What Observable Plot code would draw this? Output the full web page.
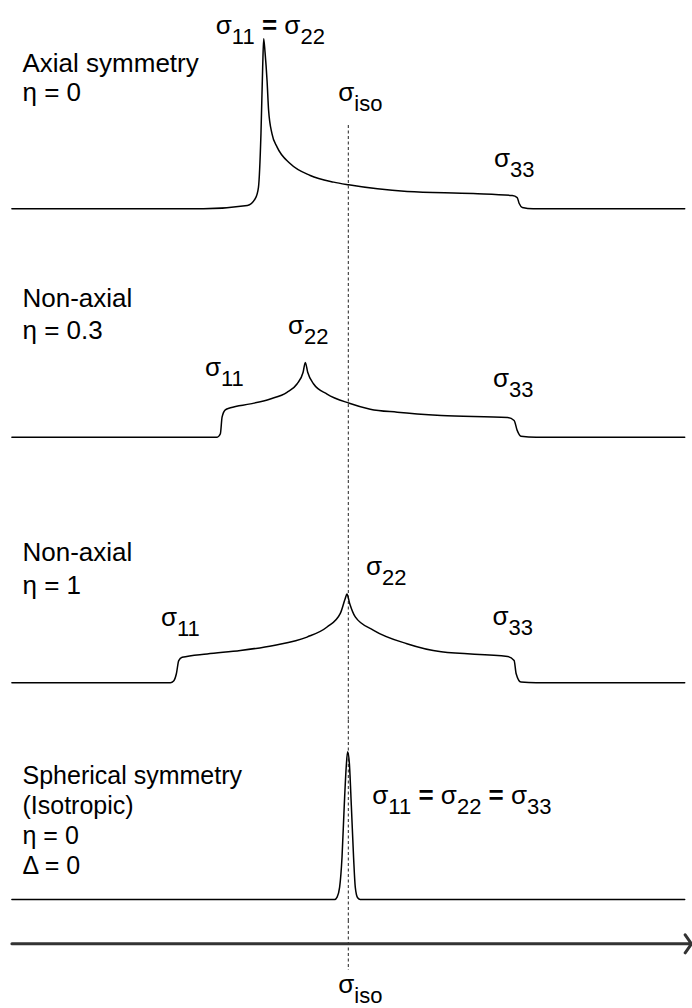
<!DOCTYPE html>
<html>
<head>
<meta charset="utf-8">
<script src="https://cdn.jsdelivr.net/npm/d3@7"></script>
<script src="https://cdn.jsdelivr.net/npm/@observablehq/plot@0.6"></script>
<style>
  html, body { margin: 0; padding: 0; background: #fff; }
  #chart { width: 692px; }
  #chart svg { display: block; }
</style>
</head>
<body>
<div id="chart"></div>
<script>
// ---- Data: chemical shift (ppm) and powder line-shape intensity (a.u.) ----
const sigmaIso = 100;

// Principal components [σ11, σ22, σ33] in ppm
const axialTensor = [50, 50, 200];
const eta03Tensor = [25, 75, 200];
const eta1Tensor = [0, 100, 200];
const isoTensor = [100, 100, 100];

// Axial symmetry, η = 0
const axialShift = [-98, 14.7, 40.6, 45.3, 47.1, 48.6, 49.6, 50.2, 51, 52.2, 53.1, 55.1, 58.1, 65.9, 77.6, 91.4, 100.2, 134.7, 173.5, 196.5, 199.4, 200.6, 202.4, 208.8, 298];
const axialIntensity = [0, 0, 1.9, 6.1, 12.5, 44.3, 83.3, 100, 92, 75, 57.8, 44.1, 36.3, 26.5, 19.6, 15.7, 14.1, 10.2, 9, 7.8, 6.6, 3.1, 0.8, 0, 0];

// Non-axial, η = 0.3
const eta03Shift = [-98, 22.8, 24.7, 25.7, 27.6, 30.6, 42.4, 54.1, 63.9, 69.8, 73.4, 74.7, 76.1, 79.6, 87.5, 100.6, 112.9, 128.8, 154.7, 193.8, 197.6, 199.4, 201.6, 210.6, 298];
const eta03Intensity = [0, 0, 2, 11.8, 16.1, 17.3, 19.6, 22.5, 26.4, 31.3, 38.2, 44, 38.2, 31.3, 25.4, 20, 16.5, 14.7, 12.8, 11.6, 9.8, 4, 0.6, 0, 0];

// Non-axial, η = 1
const eta1Shift = [-98, -4.7, -2.8, -1.2, 0.2, 2.2, 16.9, 36.5, 56.1, 75.7, 87.5, 95.3, 98.2, 99.2, 100.8, 104.1, 114.9, 134.5, 154.7, 193.8, 197.6, 198.8, 201.6, 210.6, 298];
const eta1Intensity = [0, 0, 1, 5.3, 13.1, 15, 17, 19, 22, 26.9, 32.8, 40.8, 49.6, 52.2, 46.7, 38.8, 30.9, 23, 18.2, 15.5, 13.1, 5.3, 0.4, 0, 0];

// Spherical symmetry (isotropic)
const isoShift = [-98, 92, 93.4, 94.9, 96.3, 97.6, 98.8, 99.6, 100.6, 101.8, 103.1, 104.1, 105.5, 107, 298];
const isoIntensity = [0, 0, 1.4, 7.3, 24.9, 54.9, 78.4, 86.9, 80.4, 54.9, 24.9, 7.3, 1, 0, 0];

// Descriptions and peak labels ("_" starts a subscript)
const axialTitle = ["Axial symmetry", "η = 0"];
const eta03Title = ["Non-axial", "η = 0.3"];
const eta1Title = ["Non-axial", "η = 1"];
const isoTitle = ["Spherical symmetry", "(Isotropic)", "η = 0", "Δ = 0"];

const axialLabels = ["σ_11 = σ_22", "σ_33"];
const eta03Labels = ["σ_11", "σ_22", "σ_33"];
const eta1Labels = ["σ_11", "σ_22", "σ_33"];
const isoLabels = ["σ_11 = σ_22 = σ_33"];
const isoMarker = "σ_iso";

// ---- Assemble the four spectra ----
const spectra = [
  {shift: axialShift, intensity: axialIntensity, title: axialTitle,
   labels: axialLabels, at: [axialTensor[0], axialTensor[2]]},
  {shift: eta03Shift, intensity: eta03Intensity, title: eta03Title,
   labels: eta03Labels, at: eta03Tensor},
  {shift: eta1Shift, intensity: eta1Intensity, title: eta1Title,
   labels: eta1Labels, at: eta1Tensor},
  {shift: isoShift, intensity: isoIntensity, title: isoTitle,
   labels: isoLabels, at: [isoTensor[0]]}
];

// ---- Layout (pixels) ----
const W = 692;
const PX = 1.7;              // pixels per intensity unit
const FONT = "'Liberation Sans', Arial, Helvetica, sans-serif";
const TEXT_SIZE = 26;
const SUB_SIZE = 22;
const SUB_SHIFT = 10;
const xDomain = [-100, 302];

const layout = [
  {top: 0, height: 250, baseline: 208.3, title: {first: 71.7, step: 29, size: 26}, ruleTop: 125,
   labels: [{dx: 7, dy: -175}, {dx: -4, dy: -41.6}],
   iso: {dx: 12, dy: -108.3}},
  {top: 250, height: 230, baseline: 436.7, title: {first: 306.7, step: 31.5, size: 26},
   labels: [{dx: 3.5, dy: -61.7}, {dx: 2.5, dy: -103.4}, {dx: -5, dy: -50}]},
  {top: 480, height: 240, baseline: 682.3, title: {first: 560, step: 33.5, size: 26},
   labels: [{dx: 2, dy: -57.3}, {dx: 38, dy: -108.3}, {dx: -5.5, dy: -58.3}]},
  {top: 720, height: 200, baseline: 899, title: {first: 783.3, step: 30, size: 25},
   labels: [{dx: 24, dy: -95.7, anchor: "start"}]}
];
const axisLayout = {top: 920, height: 88, baseline: 943.3, ruleBottom: 38, iso: {dx: 12, dy: 48.7}};

// Turn "σ_11 = σ_22" style strings into tspans with lowered subscripts and a bold "="
function richText(svg) {
  svg.querySelectorAll("text").forEach(el => {
    const s = el.textContent;
    if (!s.includes("_")) return;
    while (el.firstChild) el.removeChild(el.firstChild);
    el.style.whiteSpace = "pre";
    const parts = s.split(/(_[A-Za-z0-9]+|=)/).filter(Boolean);
    let low = false;
    for (const p of parts) {
      const t = document.createElementNS("http://www.w3.org/2000/svg", "tspan");
      if (p[0] === "_") {
        t.textContent = p.slice(1);
        t.setAttribute("font-size", SUB_SIZE);
        if (!low) { t.setAttribute("dy", SUB_SHIFT); low = true; }
      } else {
        t.textContent = p;
        if (low) { t.setAttribute("dy", -SUB_SHIFT); low = false; }
        if (p === "=") t.setAttribute("font-weight", "bold");
      }
      el.appendChild(t);
    }
  });
  return svg;
}

function frame(lay, marks) {
  return Plot.plot({
    width: W,
    height: lay.height,
    marginTop: 0, marginBottom: 0, marginLeft: 8, marginRight: 1,
    x: {domain: xDomain, axis: null},
    y: {domain: [(lay.baseline - lay.top - lay.height) / PX, (lay.baseline - lay.top) / PX], axis: null},
    style: {background: "transparent", fontFamily: FONT, overflow: "visible"},
    marks
  });
}

function isoRule(lay) {
  return Plot.ruleX([sigmaIso], {
    x: d => d, stroke: "#222", strokeWidth: 1, strokeDasharray: "3,2.5",
    insetTop: lay.ruleTop || 0, insetBottom: lay.ruleBottom || 0
  });
}

function textStyle(extra) {
  return Object.assign({fontSize: TEXT_SIZE, fontFamily: FONT, fill: "#000", lineAnchor: "bottom"}, extra);
}

const chart = document.getElementById("chart");

spectra.forEach((spec, k) => {
  const lay = layout[k];
  const rows = spec.shift.map((x, i) => ({x, y: spec.intensity[i]}));

  const titleMarks = spec.title.map((line, i) =>
    Plot.text([line], textStyle({
      text: d => d, frameAnchor: "top-left", textAnchor: "start", fontSize: lay.title.size,
      dx: 14, dy: lay.title.first - lay.top + i * lay.title.step
    })));

  const labelMarks = spec.labels.map((label, i) =>
    Plot.text([{x: spec.at[i], y: 0, label}], textStyle({
      x: "x", y: "y", text: "label",
      textAnchor: lay.labels[i].anchor || "middle",
      dx: lay.labels[i].dx, dy: lay.labels[i].dy
    })));

  const marks = [
    isoRule(lay),
    Plot.line(rows, {x: "x", y: "y", curve: "monotone-x", stroke: "#000", strokeWidth: 1.5}),
    ...titleMarks,
    ...labelMarks
  ];
  if (lay.iso) {
    marks.push(Plot.text([{x: sigmaIso, y: 0, label: isoMarker}], textStyle({
      x: "x", y: "y", text: "label", textAnchor: "middle", dx: lay.iso.dx, dy: lay.iso.dy
    })));
  }
  chart.appendChild(richText(frame(lay, marks)));
});

// Shielding axis with arrow and the isotropic position marker
const axisRows = [{x1: -98, x2: 302, y: 0}];
chart.appendChild(richText(frame(axisLayout, [
  isoRule(axisLayout),
  Plot.arrow(axisRows, {x1: "x1", x2: "x2", y1: "y", y2: "y", stroke: "#333", strokeWidth: 3, headLength: 5.5, headAngle: 110}),
  Plot.text([{x: sigmaIso, y: 0, label: isoMarker}], textStyle({
    x: "x", y: "y", text: "label", textAnchor: "middle", dx: axisLayout.iso.dx, dy: axisLayout.iso.dy
  }))
])));
</script>
</body>
</html>
